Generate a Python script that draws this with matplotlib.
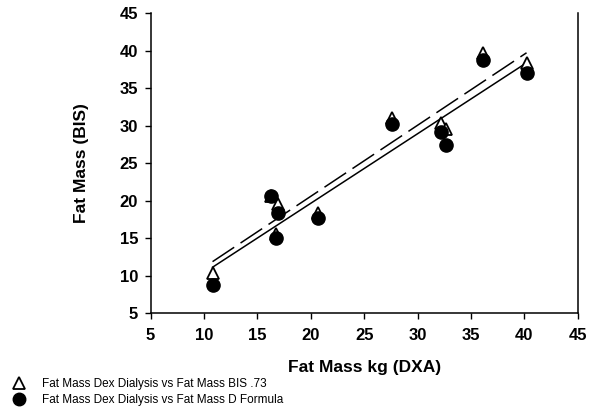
import numpy as np
import matplotlib
matplotlib.use('Agg')
import matplotlib.pyplot as plt

plt.rcParams['font.family'] = ['Liberation Sans', 'DejaVu Sans']

# Fat mass by DXA (x) and by BIS (y)
dxa = [10.8, 16.3, 16.9, 16.7, 20.7, 27.6, 32.2, 32.7, 36.1, 40.2]
bis_73 = [10.3, 20.6, 19.5, 15.6, 18.3, 31.1, 30.4, 29.6, 39.7, 38.4]
d_formula = [8.8, 20.6, 18.3, 15.0, 17.7, 30.2, 29.2, 27.5, 38.8, 37.1]

label_73 = 'Fat Mass Dex Dialysis vs Fat Mass BIS .73'
label_d = 'Fat Mass Dex Dialysis vs Fat Mass D Formula'
ticks = [5, 10, 15, 20, 25, 30, 35, 40, 45]

fig = plt.figure(figsize=(6, 4.17), dpi=100)
ax = fig.add_axes([0.251, 0.249, 0.712, 0.719])

x = np.array(dxa)
xs = np.array([x.min(), x.max()])

# regression lines
m1, b1 = np.polyfit(x, bis_73, 1)
m2, b2 = np.polyfit(x, d_formula, 1)
ax.plot(xs, m1 * xs + b1, color='black', lw=1.1, linestyle=(0, (17, 5)))
ax.plot(xs, m2 * xs + b2, color='black', lw=1.1)

# points: circles drawn over the triangles
ax.plot(dxa, d_formula, 'o', color='black', ms=9.5, linestyle='none', zorder=3)
ax.plot(dxa, bis_73, '^', mfc='white', mec='black', mew=1.3, ms=9,
        linestyle='none', zorder=2)

ax.set_xlim(5, 45)
ax.set_ylim(5, 45)
ax.set_xticks(ticks)
ax.set_yticks(ticks)
ax.spines['top'].set_visible(False)
for s in ['left', 'right', 'bottom']:
    ax.spines[s].set_linewidth(1.1)
ax.tick_params(direction='out', length=4, width=1, labelsize=12)
ax.tick_params(axis='x', pad=7)
ax.tick_params(axis='y', pad=5)
for lab in ax.get_xticklabels() + ax.get_yticklabels():
    lab.set_fontweight('bold')

ax.set_xlabel('Fat Mass kg (DXA)', fontsize=12.5, fontweight='bold', labelpad=12)
ax.set_ylabel('Fat Mass (BIS)', fontsize=12.5, fontweight='bold', labelpad=22)

h1 = plt.Line2D([], [], marker='^', mfc='white', mec='black', mew=1.3,
                ms=8.5, linestyle='none')
h2 = plt.Line2D([], [], marker='o', color='black', ms=9, linestyle='none')
fig.legend([h1, h2], [label_73, label_d], loc='lower left',
           bbox_to_anchor=(-0.006, 0.0), frameon=False, fontsize=8.5,
           handletextpad=0.95, labelspacing=0.35)

fig.savefig('out.png', dpi=100)
